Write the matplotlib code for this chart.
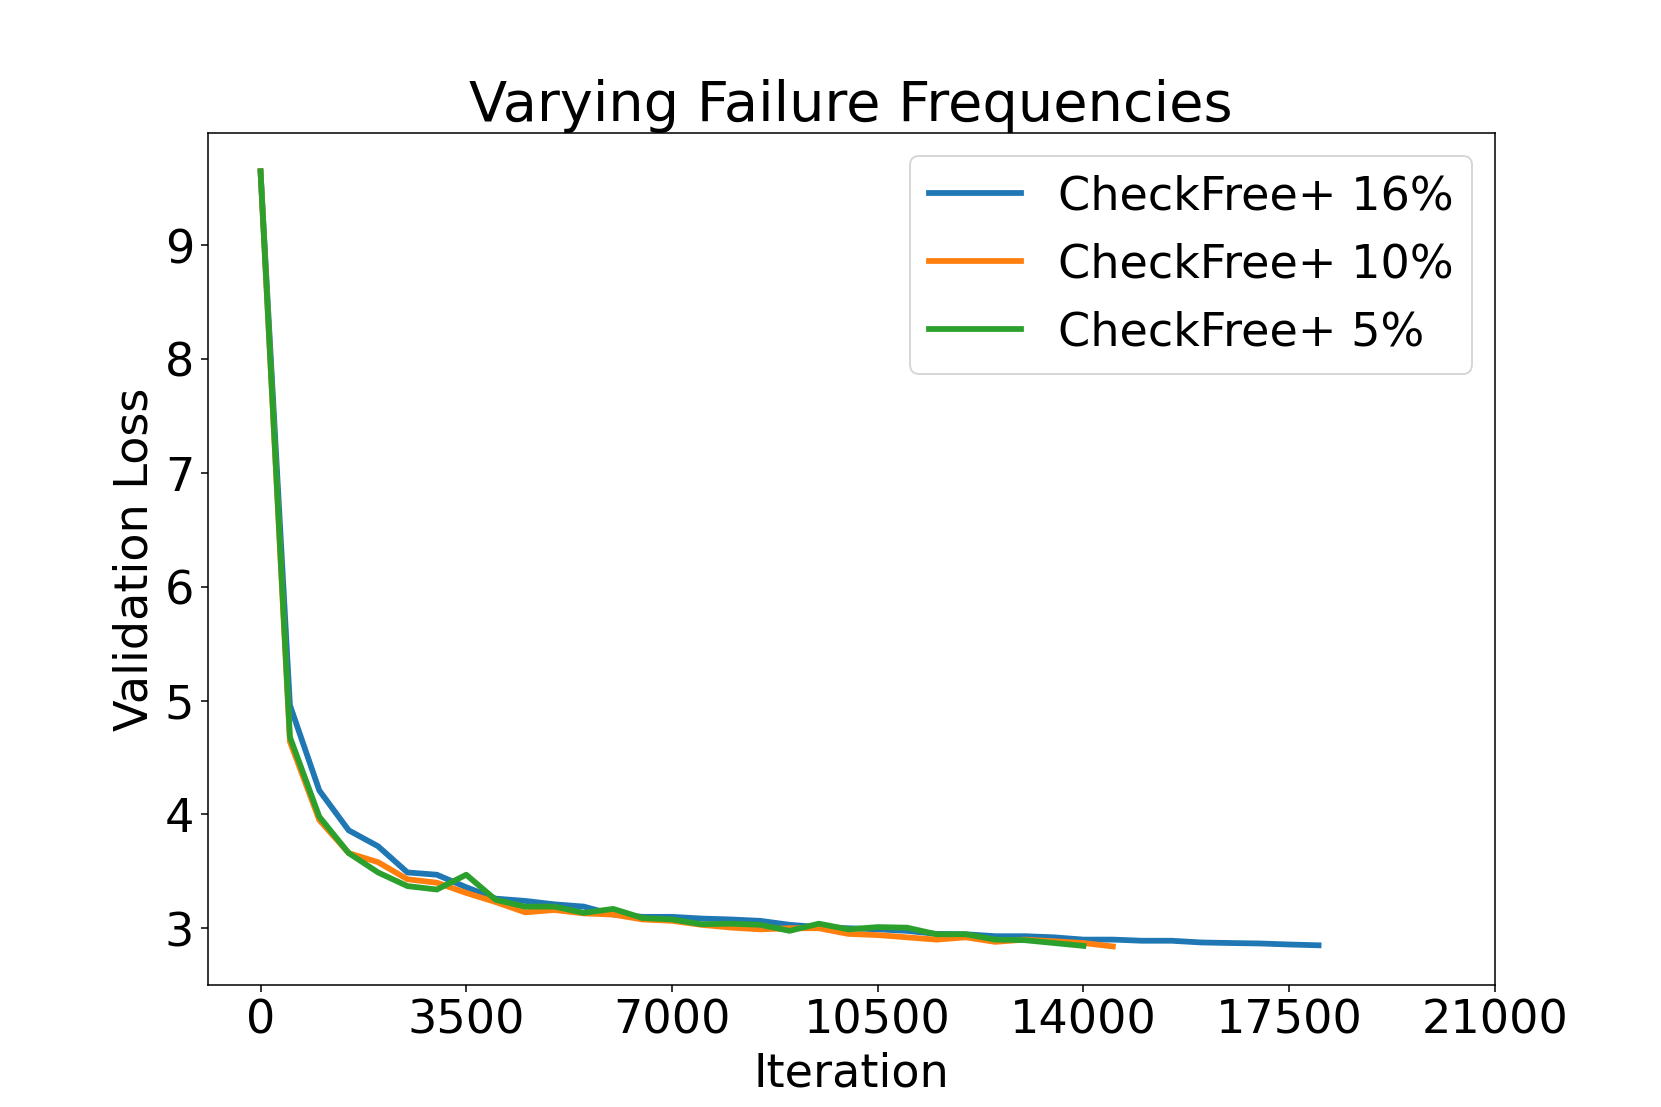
import matplotlib
import numpy as np

matplotlib.use("Agg")
import matplotlib.pyplot as plt

# validation loss logged every 500 iterations
step = 500

loss_16 = [
    9.65, 4.96, 4.21, 3.86, 3.72, 3.49, 3.47, 3.36, 3.26, 3.24,
    3.21, 3.19, 3.12, 3.10, 3.10, 3.085, 3.077, 3.065, 3.03, 3.01,
    3.00, 2.99, 2.977, 2.95, 2.947, 2.93, 2.93, 2.92, 2.90, 2.90,
    2.89, 2.89, 2.875, 2.87, 2.866, 2.857, 2.85,
]
loss_10 = [
    9.65, 4.64, 3.95, 3.66, 3.58, 3.43, 3.40, 3.31, 3.23, 3.14,
    3.16, 3.13, 3.12, 3.077, 3.065, 3.03, 3.006, 2.99, 3.00, 3.00,
    2.95, 2.94, 2.92, 2.90, 2.92, 2.88, 2.90, 2.885, 2.87, 2.84,
]
loss_5 = [
    9.65, 4.68, 3.98, 3.66, 3.49, 3.37, 3.34, 3.47, 3.25, 3.19,
    3.19, 3.135, 3.17, 3.09, 3.077, 3.035, 3.04, 3.03, 2.977, 3.04,
    2.99, 3.01, 3.005, 2.947, 2.947, 2.90, 2.895, 2.87, 2.845,
]

labels = ["CheckFree+ 16%", "CheckFree+ 10%", "CheckFree+ 5%"]
xticks = list(range(0, 21001, 3500))

fig, ax = plt.subplots(figsize=(12, 8), dpi=1661 / 12)

for loss, label in zip([loss_16, loss_10, loss_5], labels):
    iters = np.arange(len(loss)) * step
    ax.plot(iters, loss, label=label, linewidth=3)

ax.set_xticks(xticks)
ax.tick_params(labelsize=24)
ax.set_title("Varying Failure Frequencies", fontsize=29)
ax.set_xlabel("Iteration", fontsize=24)
ax.set_ylabel("Validation Loss", fontsize=24)
ax.legend(fontsize=24)

fig.savefig("out.png", dpi=1661 / 12)
